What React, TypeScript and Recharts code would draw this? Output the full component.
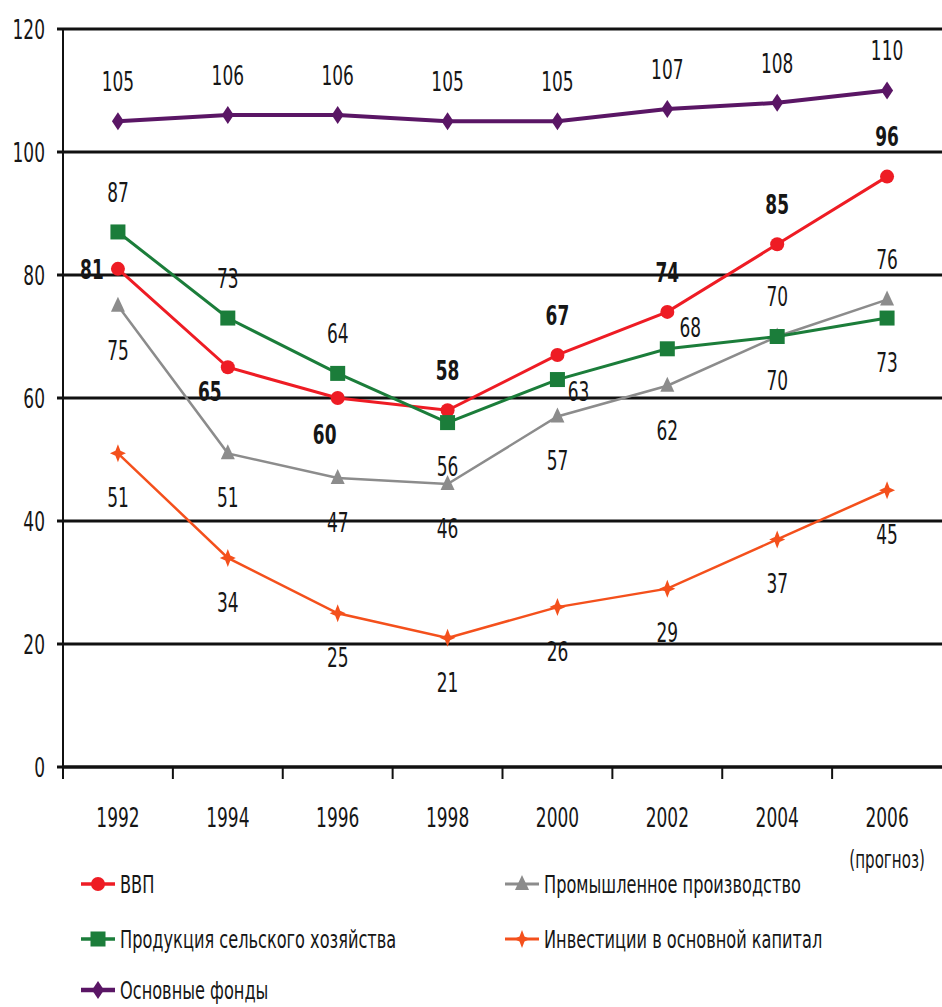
import React from "react";
import { LineChart, Line, XAxis, YAxis, CartesianGrid } from "recharts";

const years = ["1992", "1994", "1996", "1998", "2000", "2002", "2004", "2006"];
const gdp = [81, 65, 60, 58, 67, 74, 85, 96];
const agriculture = [87, 73, 64, 56, 63, 68, 70, 73];
const industry = [75, 51, 47, 46, 57, 62, 70, 76];
const investment = [51, 34, 25, 21, 26, 29, 37, 45];
const fixedAssets = [105, 106, 106, 105, 105, 107, 108, 110];
const yTicks = [0, 20, 40, 60, 80, 100, 120];
const forecastNote = "(прогноз)";

const FONT =
  '"Liberation Sans Narrow", "Arial Narrow", "DejaVu Sans Condensed", sans-serif';

const W = 942;
const H = 880;
const LEFT = 63;
const TOP = 29;
const AXIS_H = 113;
const HALF_BAND = (W - LEFT) / years.length / 2;

// label placement -> offset from the point
const OFFSETS: Record<string, [number, number]> = {
  above: [0, -40],
  below: [0, 44],
  left: [-26, 0],
  belowLeft: [-18, 24],
  belowNear: [-13, 36],
  right: [21, 12],
  aboveRight: [23, -22],
};

const series = [
  {
    key: "investment",
    name: "Инвестиции в основной капитал",
    values: investment,
    color: "#f4501c",
    width: 2.5,
    shape: "star",
    bold: false,
    place: ["below", "below", "below", "below", "below", "below", "below", "below"],
  },
  {
    key: "fixedAssets",
    name: "Основные фонды",
    values: fixedAssets,
    color: "#5a1665",
    width: 4,
    shape: "diamond",
    bold: false,
    place: ["above", "above", "above", "above", "above", "above", "above", "above"],
  },
  {
    key: "industry",
    name: "Промышленное производство",
    values: industry,
    color: "#8c8c8c",
    width: 2.5,
    shape: "triangle",
    bold: false,
    place: ["below", "below", "below", "below", "below", "below", "below", "above"],
  },
  {
    key: "gdp",
    name: "ВВП",
    values: gdp,
    color: "#ee1c24",
    width: 3,
    shape: "circle",
    bold: true,
    place: ["left", "belowLeft", "belowNear", "above", "above", "above", "above", "above"],
  },
  {
    key: "agriculture",
    name: "Продукция сельского хозяйства",
    values: agriculture,
    color: "#1b7d3a",
    width: 3,
    shape: "square",
    bold: false,
    place: ["above", "above", "above", "below", "right", "aboveRight", "above", "below"],
  },
];

const data = years.map((year, i) => {
  const row: Record<string, string | number> = { year };
  series.forEach((s) => (row[s.key] = s.values[i]));
  return row;
});

function NarrowText({ x, y, children, bold = false, anchor = "middle", size = 27, sx = 0.7 }: any) {
  return (
    <g transform={`translate(${x},${y}) scale(${sx},1)`}>
      <text
        x={0}
        y={0}
        textAnchor={anchor}
        dominantBaseline="central"
        fontFamily={FONT}
        fontSize={size}
        fontWeight={bold ? 700 : 400}
        fill="#161616"
      >
        {children}
      </text>
    </g>
  );
}

function Marker({ cx, cy, shape, color }: any) {
  if (cx == null || cy == null) return null;
  if (shape === "circle") return <circle cx={cx} cy={cy} r={7} fill={color} />;
  if (shape === "square")
    return <rect x={cx - 7.5} y={cy - 7.5} width={15} height={15} fill={color} />;
  if (shape === "triangle")
    return <path d={`M${cx},${cy - 9} L${cx + 7},${cy + 6} L${cx - 7},${cy + 6} Z`} fill={color} />;
  if (shape === "diamond")
    return <path d={`M${cx},${cy - 9} L${cx + 6},${cy} L${cx},${cy + 9} L${cx - 6},${cy} Z`} fill={color} />;
  // four-pointed star
  return (
    <path
      d={`M${cx},${cy - 9} L${cx + 2.5},${cy - 2.5} L${cx + 8},${cy} L${cx + 2.5},${cy + 2.5} L${cx},${cy + 9} L${cx - 2.5},${cy + 2.5} L${cx - 8},${cy} L${cx - 2.5},${cy - 2.5} Z`}
      fill={color}
    />
  );
}

function XTick({ x, y, payload, index }: any) {
  return (
    <g>
      <line x1={x - HALF_BAND} y1={y} x2={x - HALF_BAND} y2={y + 12} stroke="#111" strokeWidth={2} />
      <NarrowText x={x} y={y + 50}>
        {payload.value}
      </NarrowText>
      {index === years.length - 1 && (
        <NarrowText x={x} y={y + 93} size={24}>
          {forecastNote}
        </NarrowText>
      )}
    </g>
  );
}

function YTick({ x, y, payload }: any) {
  return (
    <NarrowText x={x} y={y} anchor="end">
      {payload.value}
    </NarrowText>
  );
}

function Legend() {
  const rows = [884, 939, 990];
  const cols = [81, 505];
  const pos: Record<string, [number, number]> = {
    gdp: [cols[0], rows[0]],
    industry: [cols[1], rows[0]],
    agriculture: [cols[0], rows[1]],
    investment: [cols[1], rows[1]],
    fixedAssets: [cols[0], rows[2]],
  };
  return (
    <svg width={W} height={1007} style={{ position: "absolute", left: 0, top: 0 }}>
      {series.map((s) => {
        const [x, y] = pos[s.key];
        return (
          <g key={s.key}>
            <line x1={x} y1={y} x2={x + 34} y2={y} stroke={s.color} strokeWidth={s.width + 0.5} />
            <Marker cx={x + 17} cy={y} shape={s.shape} color={s.color} />
            <NarrowText x={x + 39} y={y} anchor="start" size={25} sx={0.72}>
              {s.name}
            </NarrowText>
          </g>
        );
      })}
    </svg>
  );
}

export default function App() {
  return (
    <div style={{ position: "absolute", left: 0, top: 0, width: W, height: 1007, background: "#fff" }}>
      <LineChart
        width={W}
        height={H}
        data={data}
        margin={{ top: TOP, right: 0, bottom: 0, left: 0 }}
      >
        <CartesianGrid vertical={false} stroke="#111" strokeWidth={3} />
        <XAxis
          dataKey="year"
          height={AXIS_H}
          padding={{ left: HALF_BAND, right: HALF_BAND }}
          axisLine={{ stroke: "#111", strokeWidth: 3 }}
          tickLine={false}
          tickSize={0}
          tickMargin={0}
          interval={0}
          tick={<XTick />}
        />
        <YAxis
          width={LEFT}
          domain={[0, 120]}
          ticks={yTicks}
          interval={0}
          axisLine={{ stroke: "#111", strokeWidth: 2 }}
          tickLine={{ stroke: "#111", strokeWidth: 3 }}
          tickSize={6}
          tickMargin={12}
          tick={<YTick />}
        />
        {series.map((s) => (
          <Line
            key={s.key}
            dataKey={s.key}
            name={s.name}
            type="linear"
            stroke={s.color}
            strokeWidth={s.width}
            isAnimationActive={false}
            dot={(p: any) => <Marker key={p.index} cx={p.cx} cy={p.cy} shape={s.shape} color={s.color} />}
            activeDot={false}
            label={(p: any) => {
              const [dx, dy] = OFFSETS[s.place[p.index]];
              return (
                <NarrowText key={p.index} x={p.x + dx} y={p.y + dy} bold={s.bold}>
                  {p.value}
                </NarrowText>
              );
            }}
          />
        ))}
      </LineChart>
      <Legend />
    </div>
  );
}
